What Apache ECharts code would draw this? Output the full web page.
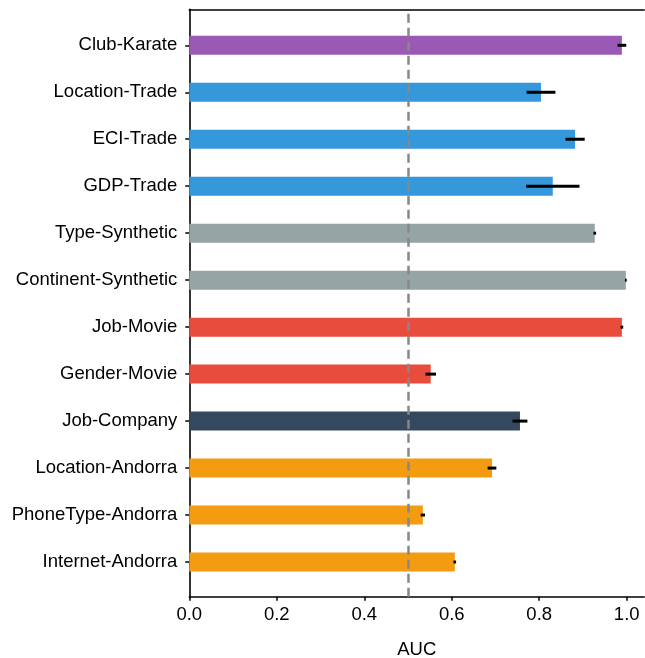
<!DOCTYPE html>
<html>
<head>
<meta charset="utf-8">
<script src="https://cdn.jsdelivr.net/npm/echarts@6/dist/echarts.min.js"></script>
<style>
html,body{margin:0;padding:0;background:#fff;}
#chart{width:645px;height:658px;}
</style>
</head>
<body>
<div id="chart"></div>
<script>
// ---- data ----
var categories = ['Club-Karate','Location-Trade','ECI-Trade','GDP-Trade','Type-Synthetic','Continent-Synthetic','Job-Movie','Gender-Movie','Job-Company','Location-Andorra','PhoneType-Andorra','Internet-Andorra'];
var aucValues = [0.989, 0.804, 0.882, 0.831, 0.927, 0.998, 0.989, 0.552, 0.756, 0.692, 0.534, 0.607];
var aucErrors = [0.010, 0.033, 0.022, 0.061, 0.003, 0.002, 0.003, 0.012, 0.017, 0.010, 0.005, 0.003];
var groups = ['karate','trade','trade','trade','synthetic','synthetic','movie','movie','company','andorra','andorra','andorra'];
var xTicks = [0.0, 0.2, 0.4, 0.6, 0.8, 1.0];
var chanceLevel = 0.5;

// ---- style ----
var groupColors = {karate:'#9b59b6', trade:'#3498db', synthetic:'#95a5a6', movie:'#e74c3c', company:'#34495e', andorra:'#f39c12'};
var FONT = "'Liberation Sans', Arial, Helvetica, sans-serif";
var FS = 18.5;
var XMAX = 1.04;
var L = 189.3, T = 9.3, W = 437.4 * XMAX, H = 587.4;

var barData = aucValues.map(function(v, i){
  return {value: v, itemStyle: {color: groupColors[groups[i]]}};
});
var errData = aucValues.map(function(v, i){
  return [v - aucErrors[i], v + aucErrors[i], i];
});

var chart = echarts.init(document.getElementById('chart'), null, {renderer:'canvas'});
chart.setOption({
  animation: false,
  backgroundColor: '#fff',
  textStyle: {fontFamily: FONT},
  grid: [
    {left: L, top: T, width: W, height: H, containLabel: false, outerBoundsMode: 'none'},
    {left: L, top: 21.8, width: W, height: 563.7, containLabel: false, outerBoundsMode: 'none'}
  ],
  xAxis: [
    {
      gridIndex: 0, type: 'value', position: 'bottom', min: 0, max: XMAX, interval: 0.2,
      name: 'AUC', nameLocation: 'middle', nameGap: 44,
      nameTextStyle: {fontFamily: FONT, fontSize: FS, color: '#000'},
      axisLine: {show: true, lineStyle: {color: '#000', width: 1.6}},
      axisTick: {show: true, inside: false, length: 4, customValues: xTicks, lineStyle: {color: '#000', width: 1.5}},
      axisLabel: {show: true, margin: 9, fontFamily: FONT, fontSize: FS, color: '#000', customValues: xTicks,
        formatter: function(v){ return xTicks.some(function(t){return Math.abs(t-v)<1e-9;}) ? Number(v).toFixed(1) : ''; }},
      splitLine: {show: false}
    },
    {
      gridIndex: 0, type: 'value', position: 'top', min: 0, max: XMAX,
      axisLine: {show: true, lineStyle: {color: '#000', width: 1.6}},
      axisTick: {show: false}, axisLabel: {show: false}, splitLine: {show: false}
    },
    {
      gridIndex: 1, type: 'value', min: 0, max: XMAX, show: false
    }
  ],
  yAxis: [
    {
      gridIndex: 0, type: 'value', min: 0, max: 1,
      axisLine: {show: true, lineStyle: {color: '#000', width: 1.6}},
      axisTick: {show: false}, axisLabel: {show: false}, splitLine: {show: false}
    },
    {
      gridIndex: 1, type: 'category', data: categories, inverse: true,
      axisLine: {show: false},
      axisTick: {show: true, alignWithLabel: true, length: 4, lineStyle: {color: '#000', width: 1.5}},
      axisLabel: {show: true, margin: 12, fontFamily: FONT, fontSize: FS, color: '#000'},
      splitLine: {show: false}
    }
  ],
  series: [
    {
      type: 'line', xAxisIndex: 0, yAxisIndex: 0, data: [], silent: true,
      markLine: {
        silent: true, symbol: ['none','none'], label: {show: false},
        lineStyle: {color: '#888', type: [9, 5], width: 2.5},
        data: [{xAxis: chanceLevel}]
      }
    },
    {
      type: 'bar', xAxisIndex: 2, yAxisIndex: 1, data: barData, barWidth: 19, z: 1
    },
    {
      type: 'custom', xAxisIndex: 2, yAxisIndex: 1, data: errData, z: 5,
      renderItem: function(params, api){
        var p1 = api.coord([api.value(0), api.value(2)]);
        var p2 = api.coord([api.value(1), api.value(2)]);
        return {type: 'line', shape: {x1: p1[0], y1: p1[1], x2: p2[0], y2: p2[1]},
          style: {stroke: '#000', lineWidth: 3, lineCap: 'butt'}};
      }
    }
  ]
});
</script>
</body>
</html>
